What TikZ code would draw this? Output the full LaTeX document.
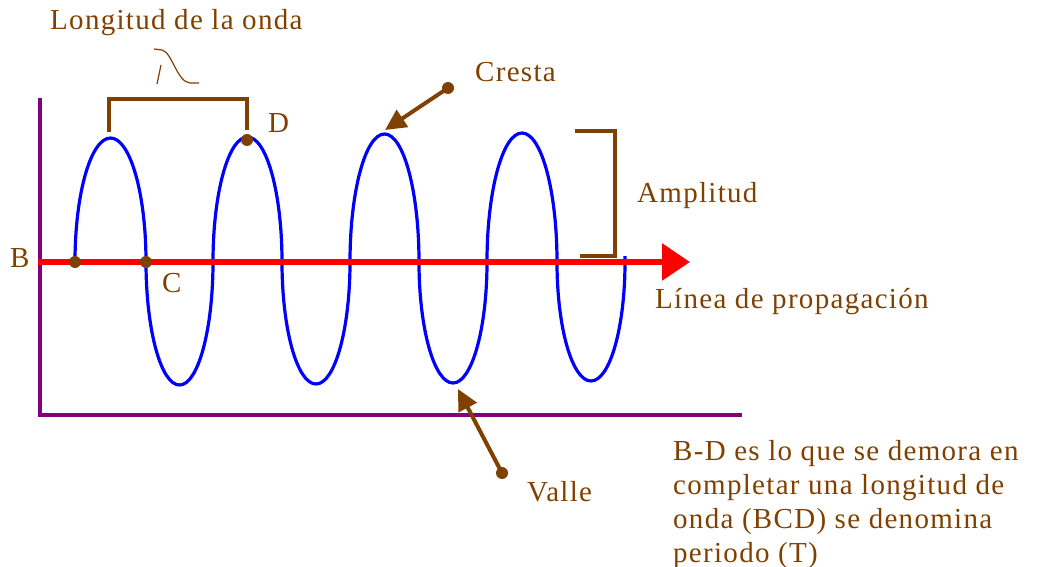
\documentclass[tikz,border=0pt]{standalone}
\usepackage{fontspec}
\usetikzlibrary{arrows.meta}
\newfontfamily\lblfont{Liberation Serif}[LetterSpace=4.5]
\definecolor{wbrown}{RGB}{128,64,0}
\definecolor{wpurple}{RGB}{128,0,128}
\definecolor{wblue}{RGB}{0,0,255}
\definecolor{wred}{RGB}{255,0,0}
\tikzset{
  lbl/.style={font=\lblfont\fontsize{29}{34}\selectfont, text=wbrown, inner sep=0pt, anchor=base west},
  dot/.style={circle, fill=wbrown, inner sep=0pt, minimum size=12pt},
  axis/.style={draw=wpurple, line width=3.5pt},
  wave/.style={draw=wblue, line width=3.2pt},
  propline/.style={draw=wred, line width=6pt, -{Triangle[length=28pt,width=36pt]}},
  bracket/.style={draw=wbrown, line width=4pt},
  pointer/.style={draw=wbrown, line width=4pt, -{Triangle[length=21pt,width=20pt]}},
}
\begin{document}
\begin{tikzpicture}[x=1pt,y=-1pt]
\useasboundingbox (0,0) rectangle (1039,567);
% axes
\coordinate (axtop) at (40,98);
\coordinate (axorig) at (40,415);
\coordinate (axright) at (742,415);
\draw[axis] (axtop) -- (axorig) -- (axright);
% wave
\draw[wave] (75,262)
  arc[start angle=180,end angle=0,x radius=35.5pt,y radius=124pt]
  arc[start angle=180,end angle=360,x radius=33.5pt,y radius=123pt]
  arc[start angle=180,end angle=0,x radius=34.5pt,y radius=125pt]
  arc[start angle=180,end angle=360,x radius=34pt,y radius=122pt]
  arc[start angle=180,end angle=0,x radius=34.5pt,y radius=128pt]
  arc[start angle=180,end angle=360,x radius=34pt,y radius=121pt]
  arc[start angle=180,end angle=0,x radius=35pt,y radius=129pt]
  arc[start angle=180,end angle=360,x radius=34pt,y radius=119pt]
  -- ++(0,-6);
% propagation line
\coordinate (pstart) at (38,262);
\coordinate (pend) at (690,262);
\draw[propline] (pstart) -- (pend);
% wavelength bracket
\draw[bracket] (109,132) -- (109,99) -- (247,99) -- (247,130);
% lambda
\draw[wbrown, line width=1.2pt] (154,49) -- (162,50) .. controls (172,52) and (177,82) .. (190,83) -- (199,83);
\draw[wbrown, line width=1.2pt] (157,84) -- (161,65);
% amplitude bracket
\draw[bracket] (575,131) -- (615,131) -- (615,256) -- (580,256);
% points
\node[dot] (B) at (75,262) {};
\node[dot] (C) at (146,262) {};
\node[dot] (D) at (247,140) {};
% pointers
\node[dot] (crestdot) at (448,88) {};
\coordinate (cresttip) at (385,130);
\draw[pointer] (crestdot.center) -- (cresttip);
\node[dot] (valledot) at (502,473) {};
\coordinate (valletip) at (458,389);
\draw[pointer] (valledot.center) -- (valletip);
% labels
\node[lbl] (lwave) at (50,30) {Longitud de la onda};
\node[lbl] (lD) at (268,133) {D};
\node[lbl] (lB) at (10,267) {B};
\node[lbl] (lC) at (162,292) {C};
\node[lbl] (lcresta) at (475,82) {Cresta};
\node[lbl] (lvalle) at (527,501) {Valle};
\node[lbl] (lamp) at (637,202) {Amplitud};
\node[lbl] (lprop) at (655,308) {Línea de propagación};
\node[lbl, align=left] (lperiod) at (673,562) {B-D es lo que se demora en\\completar una longitud de\\onda (BCD) se denomina\\periodo (T)};
\end{tikzpicture}
\end{document}
